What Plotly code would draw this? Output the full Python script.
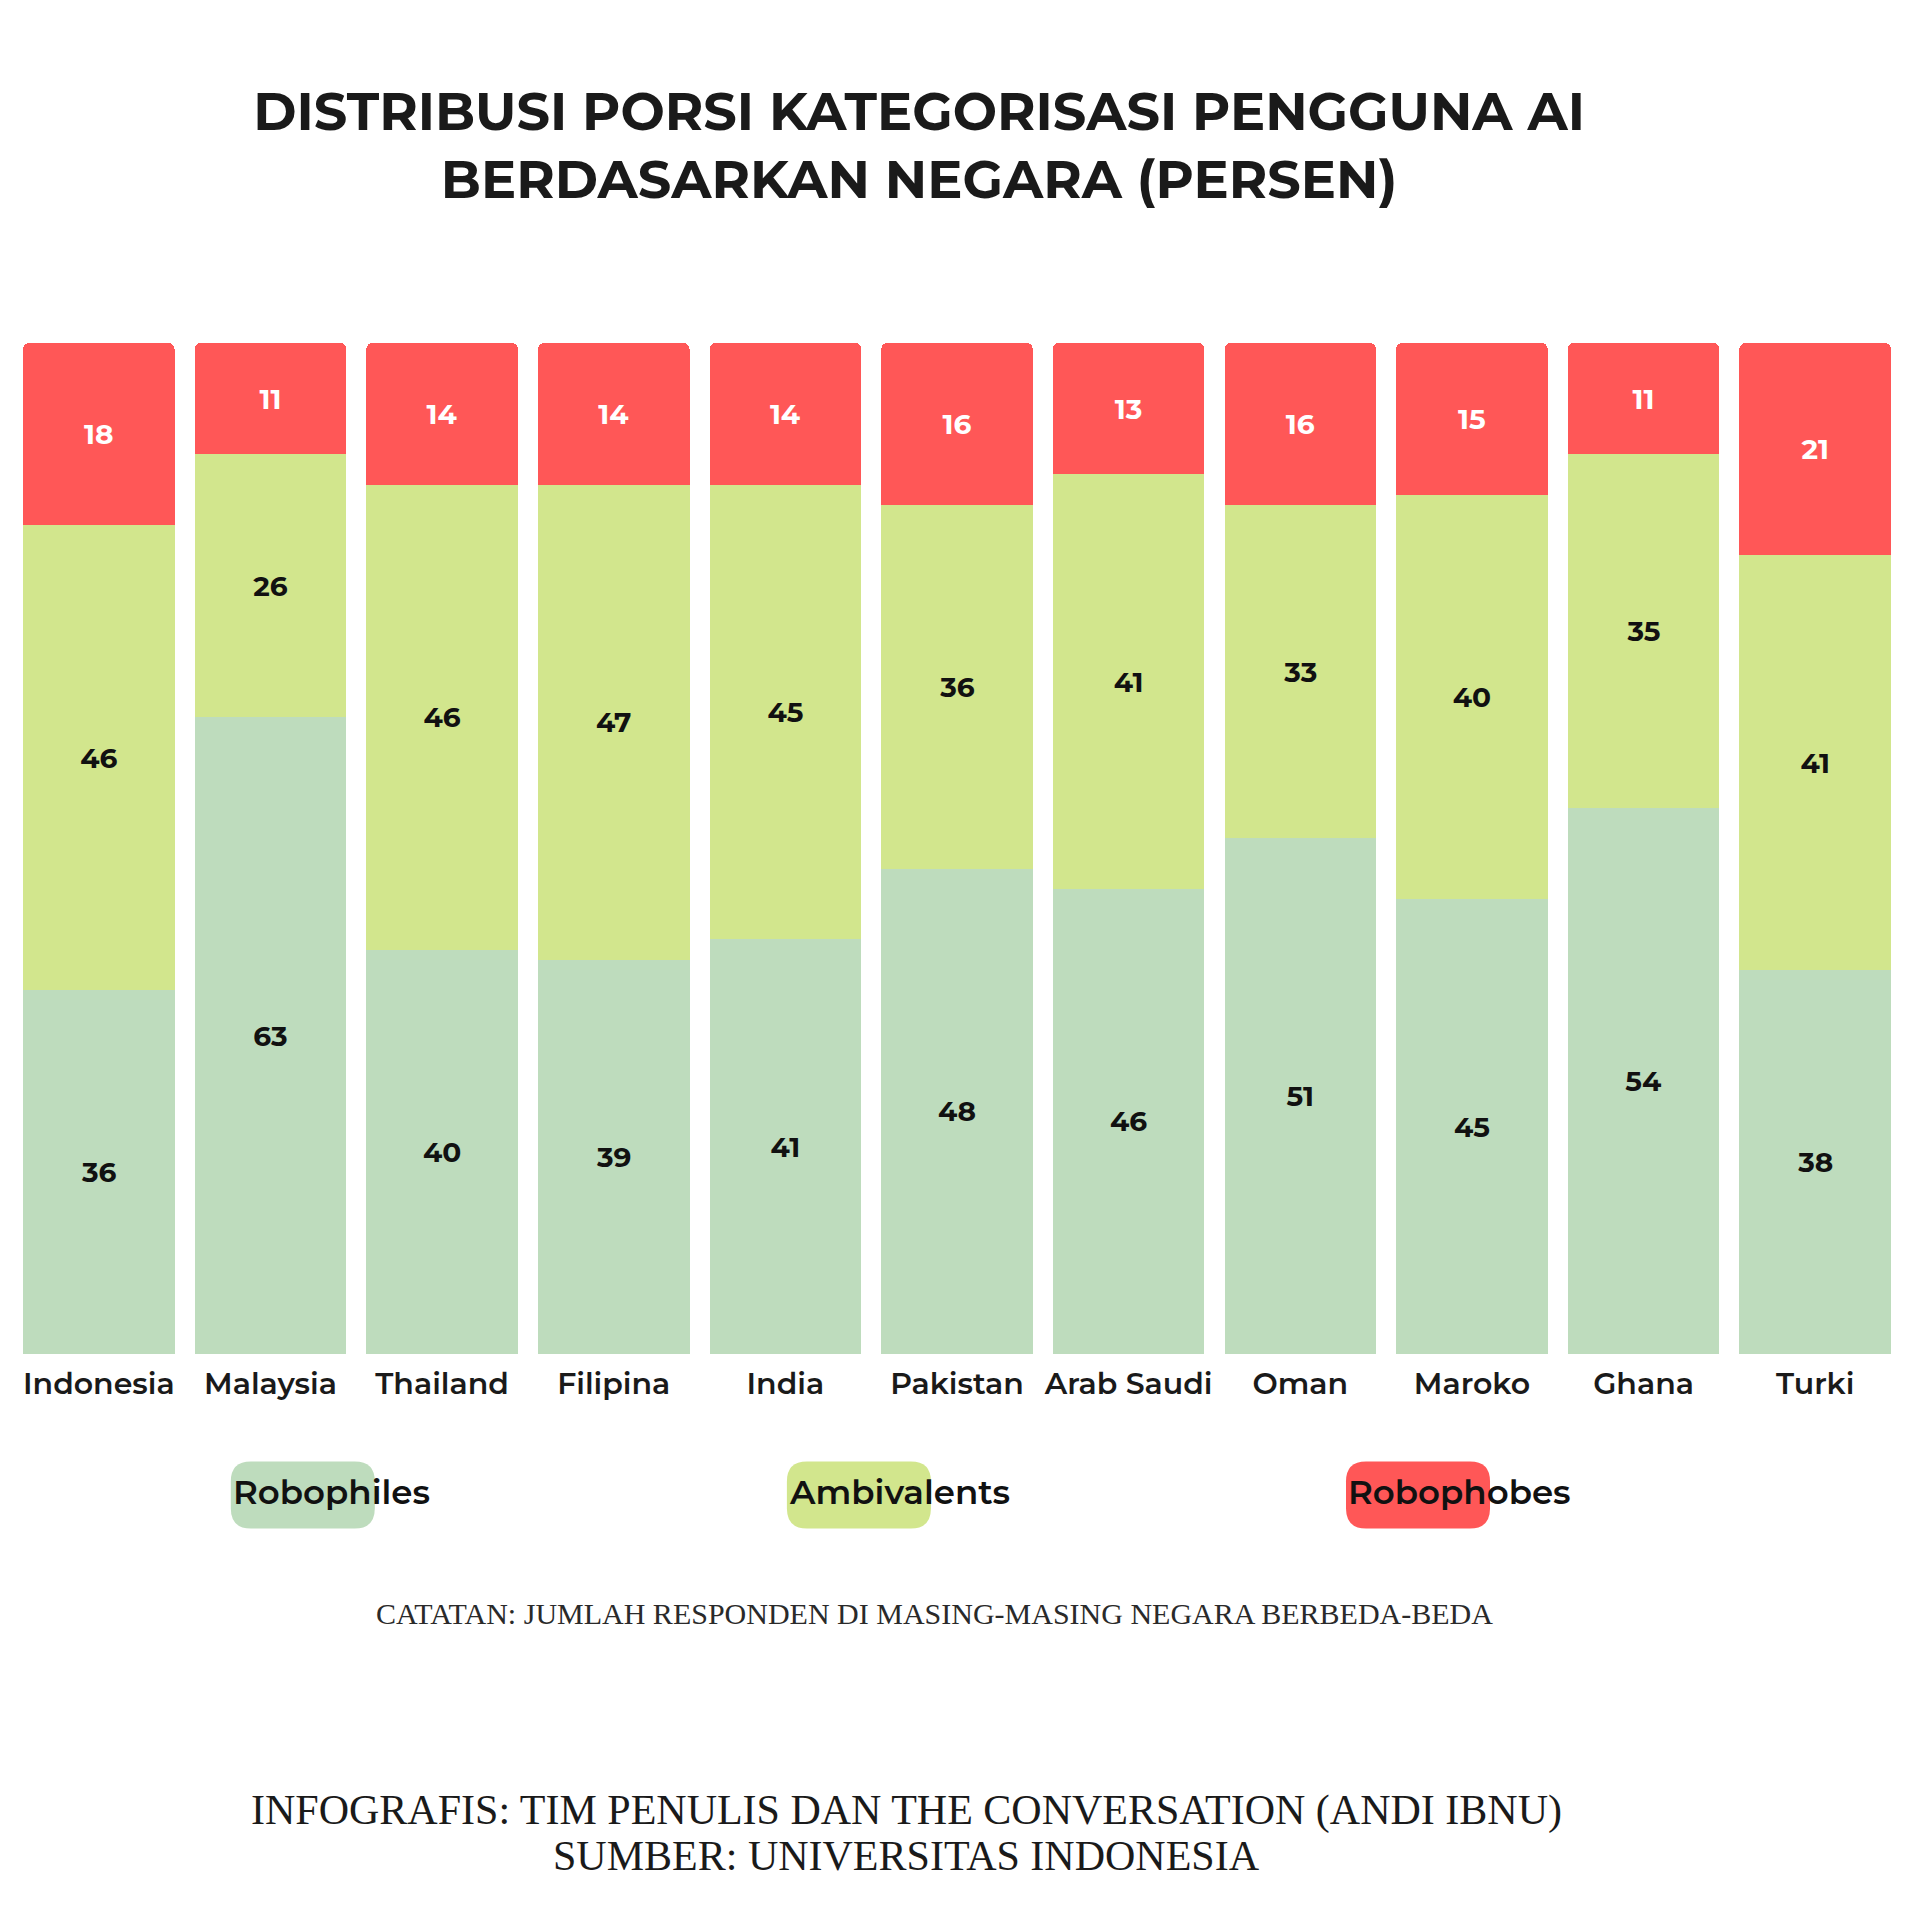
import plotly.graph_objects as go

countries = ["Indonesia", "Malaysia", "Thailand", "Filipina", "India", "Pakistan",
             "Arab Saudi", "Oman", "Maroko", "Ghana", "Turki"]
robophiles = [36, 63, 40, 39, 41, 48, 46, 51, 45, 54, 38]
ambivalents = [46, 26, 46, 47, 45, 36, 41, 33, 40, 35, 41]
robophobes = [18, 11, 14, 14, 14, 16, 13, 16, 15, 11, 21]

series_names = ["Robophiles", "Ambivalents", "Robophobes"]
series_colors = ["#BEDCBD", "#D2E68D", "#FF5757"]
text_colors = ["#111111", "#111111", "#FFFFFF"]

title_text = "DISTRIBUSI PORSI KATEGORISASI PENGGUNA AI<br>BERDASARKAN NEGARA (PERSEN)"
note_text = "CATATAN: JUMLAH RESPONDEN DI MASING-MASING NEGARA BERBEDA-BEDA"
credit_lines = ["INFOGRAFIS: TIM PENULIS DAN THE CONVERSATION (ANDI IBNU)",
                "SUMBER: UNIVERSITAS INDONESIA"]

# page body offset compensation
OFF = 8
W = H = 1920 - OFF
# plot area in screen pixels
SX0, SX1, SY0, SY1 = 13.25, 1900.9, 343.3, 1354.0
L, R = SX0 - OFF, W - (SX1 - OFF)
T, B = SY0 - OFF, H - (SY1 - OFF)
PW, PH = W - L - R, H - T - B


def px(x):
    return (x - OFF - L) / PW


def py(y):
    return (H - B - (y - OFF)) / PH


sans = "Montserrat, 'Open Sans', sans-serif"
serif = "'Liberation Serif', 'DejaVu Serif', serif"

fig = go.Figure()
for name, vals, col, tcol in zip(series_names, [robophiles, ambivalents, robophobes],
                                 series_colors, text_colors):
    fig.add_trace(go.Bar(
        x=countries, y=vals, name=name,
        marker=dict(color=col, line=dict(width=0)),
        text=vals, texttemplate="%{text}",
        textposition="inside", insidetextanchor="middle", textangle=0,
        textfont=dict(family=sans, size=28, color=tcol, weight=700),
        constraintext="none",
    ))

fig.update_layout(
    width=W, height=H,
    margin=dict(l=L, r=R, t=T, b=B),
    barmode="stack", bargap=0.117, barcornerradius=6,
    showlegend=False,
    plot_bgcolor="white", paper_bgcolor="white",
    title=dict(text=title_text, x=(919 - OFF) / W, xanchor="center", xref="container",
               y=1 - 121.5 / H, yanchor="middle", yref="container",
               font=dict(family=sans, size=52.5, color="#1a1a1a", weight=700)),
    xaxis=dict(showgrid=False, zeroline=False, showline=False,
               ticks="outside", ticklen=3, tickcolor="rgba(0,0,0,0)",
               tickfont=dict(family=sans, size=30, color="#1a1a1a", weight=600)),
    yaxis=dict(range=[0, 100], visible=False, fixedrange=True),
)

# legend pills (screen pixel geometry)
pill_left = [231, 787, 1346]
pill_w, pill_h, rad = 144, 67, 20
pill_cy = 1495
for name, col, x0 in zip(series_names, series_colors, pill_left):
    x1 = x0 + pill_w
    y0 = pill_cy - pill_h / 2
    y1 = pill_cy + pill_h / 2
    pts = [
        ("M", x0 + rad, y0), ("L", x1 - rad, y0), ("Q", x1, y0, x1, y0 + rad),
        ("L", x1, y1 - rad), ("Q", x1, y1, x1 - rad, y1), ("L", x0 + rad, y1),
        ("Q", x0, y1, x0, y1 - rad), ("L", x0, y0 + rad), ("Q", x0, y0, x0 + rad, y0),
    ]
    path = ""
    for p in pts:
        coords = p[1:]
        segs = [f"{px(coords[i]):.5f},{py(coords[i+1]):.5f}" for i in range(0, len(coords), 2)]
        path += p[0] + " ".join(segs) + " "
    path += "Z"
    fig.add_shape(type="path", path=path, xref="paper", yref="paper",
                  fillcolor=col, line=dict(width=0), layer="below")
    fig.add_annotation(text=name, x=px(x0), y=py(pill_cy - 3), xref="paper", yref="paper",
                       xanchor="left", yanchor="middle", showarrow=False,
                       font=dict(family=sans, size=34, color="#111111", weight=600))

fig.add_annotation(text=note_text, x=px(935), y=py(1613), xref="paper", yref="paper",
                   xanchor="center", yanchor="middle", showarrow=False,
                   font=dict(family=serif, size=30, color="#2a2a2a"))

for line, ly in zip(credit_lines, [1810, 1856]):
    fig.add_annotation(text=line, x=px(907), y=py(ly), xref="paper", yref="paper",
                       xanchor="center", yanchor="middle", showarrow=False,
                       font=dict(family=serif, size=42, color="#1a1a1a"))

fig.write_html("out.html")
